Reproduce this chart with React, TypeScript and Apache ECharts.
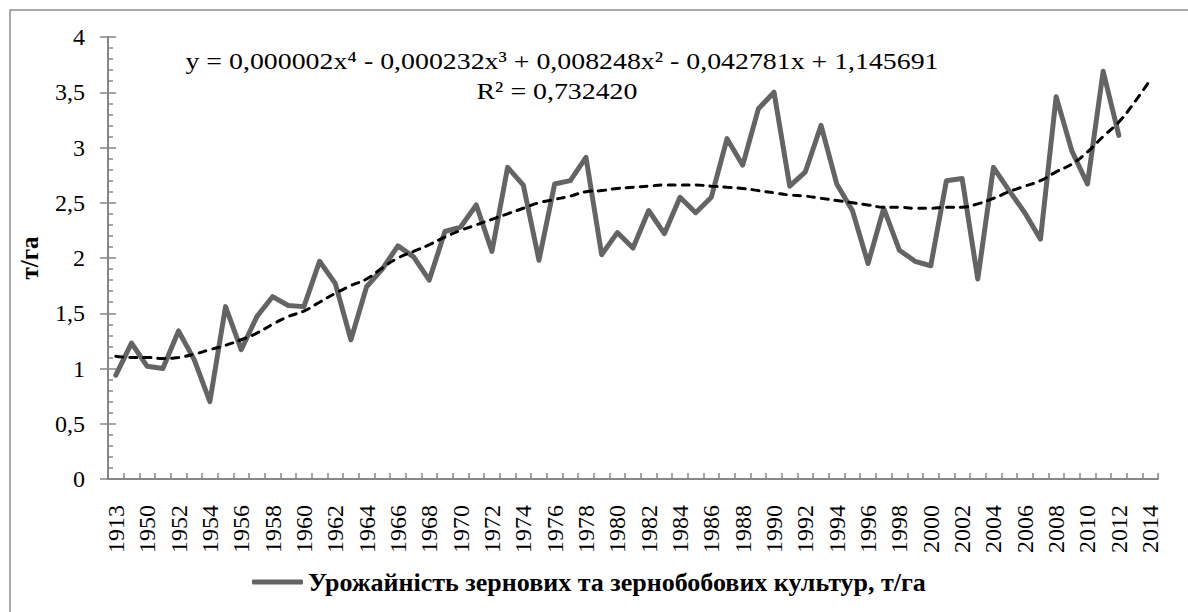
import React, { useEffect, useRef } from "react";
import * as echarts from "echarts";

const years: string[] = ["1913", "1940"];
for (let y = 1950; y <= 2014; y++) years.push(String(y));

const seriesName = "Урожайність зернових та зернобобових культур, т/га";

const yieldValues: number[] = [
  0.94, 1.23, 1.02, 1.0, 1.34, 1.08, 0.7, 1.56, 1.17, 1.47,
  1.65, 1.57, 1.56, 1.97, 1.77, 1.26, 1.74, 1.9, 2.11, 2.01,
  1.8, 2.24, 2.28, 2.48, 2.06, 2.82, 2.66, 1.98, 2.67, 2.7,
  2.91, 2.03, 2.23, 2.09, 2.43, 2.22, 2.55, 2.41, 2.55, 3.08,
  2.84, 3.35, 3.5, 2.65, 2.78, 3.2, 2.67, 2.43, 1.95, 2.45,
  2.07, 1.97, 1.93, 2.7, 2.72, 1.81, 2.82, 2.61, 2.41, 2.17,
  3.46, 2.97, 2.67, 3.69, 3.11,
];

const trendValues: number[] = [
  1.11, 1.1, 1.1, 1.09, 1.1, 1.13, 1.17, 1.21, 1.26, 1.32,
  1.4, 1.47, 1.52, 1.6, 1.68, 1.75, 1.81, 1.91, 2.0, 2.06,
  2.12, 2.19, 2.25, 2.3, 2.35, 2.4, 2.45, 2.5, 2.53, 2.56,
  2.6, 2.61, 2.63, 2.64, 2.65, 2.66, 2.66, 2.66, 2.65, 2.64,
  2.63, 2.61, 2.59, 2.57, 2.56, 2.54, 2.52, 2.5, 2.48, 2.46,
  2.46, 2.45, 2.45, 2.46, 2.46, 2.49, 2.54, 2.6, 2.65, 2.7,
  2.78, 2.85, 2.96, 3.1, 3.23, 3.41, 3.61,
];

const equationText = "y = 0,000002x⁴ - 0,000232x³ + 0,008248x² - 0,042781x + 1,145691";
const r2Text = "R² = 0,732420";
const yTitle = "т/га";

const FONT = "Liberation Serif";
const AXIS_COLOR = "#868686";

export default function App() {
  const ref = useRef<HTMLDivElement>(null);
  useEffect(() => {
    if (!ref.current) return;
    const chart = echarts.init(ref.current, null, { renderer: "svg" });
    chart.setOption({
      animation: false,
      backgroundColor: "#ffffff",
      textStyle: { fontFamily: FONT },
      grid: { left: 108, right: 30, top: 37, bottom: 133, containLabel: false },
      legend: {
        data: [{ name: seriesName, icon: "roundRect" }],
        left: 247,
        top: 564,
        itemWidth: 51,
        itemHeight: 5,
        itemGap: 5,
        textStyle: { fontFamily: FONT, fontSize: 26, fontWeight: "bold", color: "#000" },
      },
      xAxis: {
        type: "category",
        data: years,
        boundaryGap: true,
        axisLine: { lineStyle: { color: AXIS_COLOR, width: 2 } },
        axisTick: { show: true, inside: true, length: 6, interval: 0, lineStyle: { color: AXIS_COLOR, width: 1.5 } },
        axisLabel: {
          interval: 1,
          rotate: 90,
          margin: 26,
          fontFamily: FONT,
          fontSize: 24,
          color: "#000",
        },
        splitLine: { show: false },
      },
      yAxis: [
        {
          type: "value",
          min: 0,
          max: 4,
          interval: 0.5,
          position: "left",
          name: yTitle,
          nameLocation: "middle",
          nameRotate: 90,
          nameGap: 66,
          nameTextStyle: { fontFamily: FONT, fontSize: 25, fontWeight: "bold", color: "#000" },
          axisLine: { show: true, lineStyle: { color: AXIS_COLOR, width: 2 } },
          axisTick: { show: true, inside: false, length: 8, lineStyle: { color: AXIS_COLOR, width: 1.5 } },
          axisLabel: {
            margin: 23,
            fontFamily: FONT,
            fontSize: 24,
            color: "#000",
            formatter: (v: number) => String(v).replace(".", ","),
          },
          splitLine: { show: false },
        },
        {
          type: "value",
          min: 0,
          max: 4,
          interval: 0.5,
          position: "left",
          axisLine: { show: false },
          axisTick: { show: true, inside: true, length: 8, lineStyle: { color: AXIS_COLOR, width: 1.5 } },
          minorTick: { show: true, splitNumber: 5, length: 5, lineStyle: { color: AXIS_COLOR, width: 1.5 } },
          axisLabel: { show: false },
          splitLine: { show: false },
        },
      ],
      series: [
        {
          name: seriesName,
          type: "line",
          data: yieldValues,
          symbol: "none",
          lineStyle: { color: "#646464", width: 5, cap: "round", join: "round" },
          itemStyle: { color: "#646464" },
          z: 3,
        },
        {
          name: "trend",
          type: "line",
          data: trendValues,
          symbol: "none",
          smooth: true,
          lineStyle: { color: "#000", width: 3, type: [7, 7], cap: "round" },
          z: 4,
        },
      ],
      graphic: [
        {
          type: "rect",
          shape: { x: 10, y: 10, width: 1200, height: 640 },
          style: { fill: "none", stroke: "#8e8e8e", lineWidth: 1.5 },
          silent: true,
          z: -10,
        },
        {
          type: "text",
          x: 562,
          y: 61,
          scaleX: 1.16,
          style: {
            text: equationText,
            fontFamily: FONT,
            fontSize: 24,
            fill: "#000",
            align: "center",
            verticalAlign: "middle",
          },
        },
        {
          type: "text",
          x: 557,
          y: 91,
          scaleX: 1.16,
          style: {
            text: r2Text,
            fontFamily: FONT,
            fontSize: 24,
            fill: "#000",
            align: "center",
            verticalAlign: "middle",
          },
        },
      ],
    });
    return () => chart.dispose();
  }, []);
  return (
    <div
      ref={ref}
      style={{ position: "fixed", left: 0, top: 0, width: 1188, height: 612 }}
    />
  );
}
